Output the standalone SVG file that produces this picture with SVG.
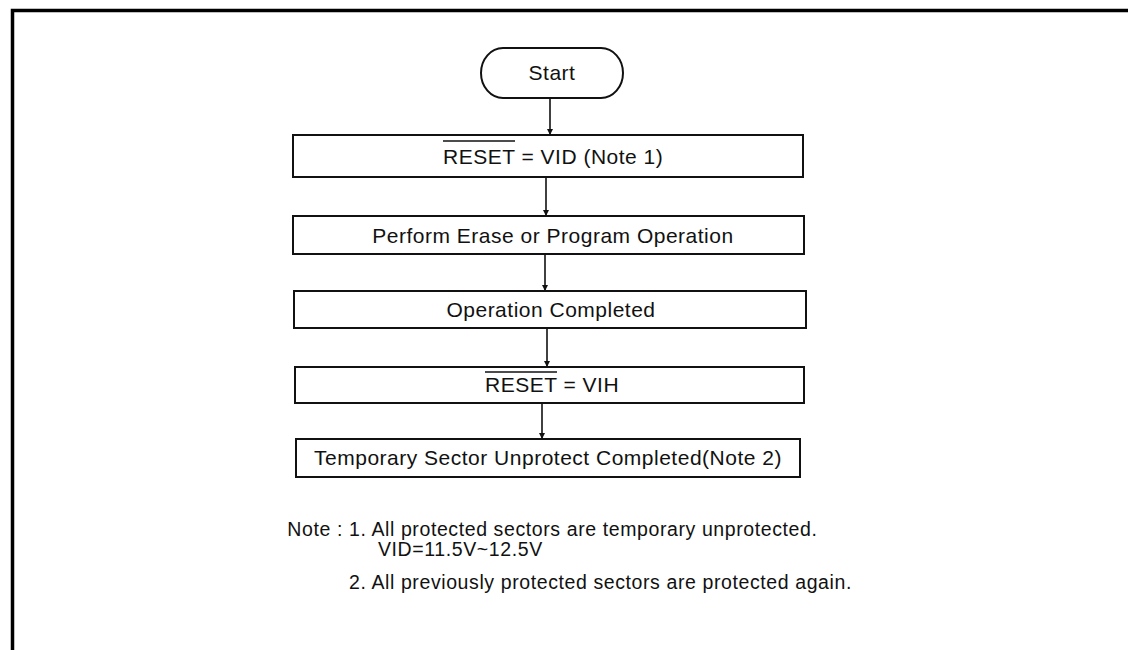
<svg xmlns="http://www.w3.org/2000/svg" width="1128" height="650" viewBox="0 0 1128 650">
  <defs>
    <marker id="arrow" viewBox="0 0 8 8" refX="8" refY="4" markerWidth="6" markerHeight="6" markerUnits="userSpaceOnUse" orient="auto">
      <path d="M0,0 L8,4 L0,8 Z" fill="#111"/>
    </marker>
    <style>
      .box { fill: #fff; stroke: #111; stroke-width: 2; }
      .lbl { font-family: "Liberation Sans", Arial, sans-serif; font-size: 21px; letter-spacing: 0.5px; fill: #111; }
      .lblc { text-anchor: middle; }
      .note { font-family: "Liberation Sans", Arial, sans-serif; font-size: 19.5px; letter-spacing: 0.6px; fill: #111; }
      .edge { stroke: #111; stroke-width: 1.6; fill: none; marker-end: url(#arrow); }
      .bar { stroke: #111; stroke-width: 1.3; }
    </style>
  </defs>

  <rect width="1128" height="650" fill="#fff"/>

  <!-- page frame (top and left rules) -->
  <path d="M12.5,650 V10.5 H1128" fill="none" stroke="#000" stroke-width="3.5"/>

  <!-- connectors -->
  <g id="connectors">
    <line class="edge" x1="550" y1="98" x2="550" y2="135"/>
    <line class="edge" x1="546" y1="177" x2="546" y2="216"/>
    <line class="edge" x1="545" y1="254" x2="545" y2="291"/>
    <line class="edge" x1="547" y1="328" x2="547" y2="367"/>
    <line class="edge" x1="542" y1="403" x2="542" y2="439"/>
  </g>

  <g id="start">
    <rect class="box" x="481" y="48" width="142" height="50" rx="22" ry="25"/>
    <text class="lbl lblc" x="552" y="80">Start</text>
  </g>

  <g id="reset-vid">
    <rect class="box" x="293" y="135" width="510" height="42"/>
    <text class="lbl" x="443" y="164">RESET = VID (Note 1)</text>
    <line class="bar" x1="443" y1="141" x2="515" y2="141"/>
  </g>

  <g id="perform">
    <rect class="box" x="293" y="216" width="511" height="38"/>
    <text class="lbl lblc" x="553" y="243">Perform Erase or Program Operation</text>
  </g>

  <g id="completed">
    <rect class="box" x="294" y="291" width="512" height="37"/>
    <text class="lbl lblc" x="551" y="317">Operation Completed</text>
  </g>

  <g id="reset-vih">
    <rect class="box" x="295" y="367" width="509" height="36"/>
    <text class="lbl" x="485" y="392">RESET = VIH</text>
    <line class="bar" x1="485" y1="372" x2="557" y2="372"/>
  </g>

  <g id="unprotect-done">
    <rect class="box" x="296" y="439" width="504" height="38"/>
    <text class="lbl lblc" x="548" y="465">Temporary Sector Unprotect Completed(Note 2)</text>
  </g>

  <g id="notes">
    <text class="note" x="343" y="536" text-anchor="end">Note :</text>
    <text class="note" x="349" y="536">1. All protected sectors are temporary unprotected.</text>
    <text class="note" x="378" y="556">VID=11.5V~12.5V</text>
    <text class="note" x="349" y="589">2. All previously protected sectors are protected again.</text>
  </g>
</svg>
